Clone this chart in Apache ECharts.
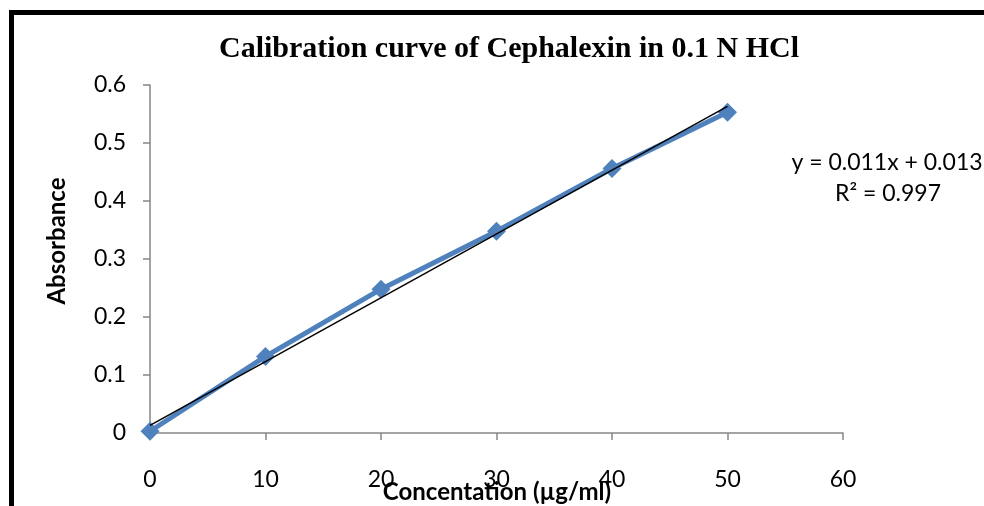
<!DOCTYPE html>
<html>
<head>
<meta charset="utf-8">
<script src="https://cdn.jsdelivr.net/npm/echarts@6/dist/echarts.min.js"></script>
<style>
  html, body { margin: 0; padding: 0; background: #fff; }
  #chart { width: 984px; height: 506px; }
</style>
</head>
<body>
<div id="chart"></div>
<script>
// concentration (µg/ml) vs absorbance
var concentration = [0, 10, 20, 30, 40, 50];
var absorbance = [0.003, 0.132, 0.248, 0.348, 0.456, 0.553];
// linear trend line ends
var trendX = [0, 50];
var trendY = [0.013, 0.563];
var xTicks = [0, 10, 20, 30, 40, 50, 60];
var yTicks = [0, 0.1, 0.2, 0.3, 0.4, 0.5, 0.6];
var xName = 'Concentation (µg/ml)';
var yName = 'Absorbance';
var equationText = 'y = 0.011x + 0.013';
var r2Text = 'R² = 0.997';

var myChart = echarts.init(document.getElementById('chart'));

var labelFont = 'Lato, "Open Sans", sans-serif';
var axisGray = '#868686';

var option = {
    backgroundColor: '#fff',
    animation: false,
    title: {
        text: 'Calibration curve of Cephalexin in 0.1 N HCl',
        left: 504,
        top: 29,
        textAlign: 'center',
        textStyle: {
            fontFamily: '"Liberation Serif", "Times New Roman", serif',
            fontWeight: 'bold',
            fontSize: 30,
            color: '#000'
        }
    },
    grid: { left: 150, right: 141, top: 85, bottom: 73, outerBoundsMode: 'none' },
    xAxis: {
        type: 'value',
        min: xTicks[0],
        max: xTicks[xTicks.length - 1],
        interval: 10,
        axisLine: { lineStyle: { color: axisGray, width: 1.5 } },
        axisTick: { show: true, length: 7, lineStyle: { color: axisGray, width: 1.5 } },
        axisLabel: { margin: 35, fontFamily: labelFont, fontSize: 23, color: '#000' },
        splitLine: { show: false }
    },
    yAxis: {
        type: 'value',
        min: yTicks[0],
        max: yTicks[yTicks.length - 1],
        interval: 0.1,
        axisLine: { show: true, lineStyle: { color: axisGray, width: 1.5 } },
        axisTick: { show: true, length: 7, lineStyle: { color: axisGray, width: 1.5 } },
        axisLabel: { margin: 24, fontFamily: labelFont, fontSize: 23, color: '#000' },
        splitLine: { show: false }
    },
    series: [
        {
            name: 'Absorbance',
            type: 'line',
            data: concentration.map(function (c, i) { return [c, absorbance[i]]; }),
            symbol: 'diamond',
            symbolSize: 19,
            lineStyle: { color: '#4F81BD', width: 5 },
            itemStyle: { color: '#4F81BD' },
            z: 2
        },
        {
            name: 'Trend',
            type: 'line',
            data: trendX.map(function (x, i) { return [x, trendY[i]]; }),
            symbol: 'none',
            lineStyle: { color: '#000', width: 1.5 },
            z: 3
        }
    ],
    graphic: [
        // outer frame (top and left edges visible)
        { type: 'rect', shape: { x: 9, y: 10, width: 975, height: 5 }, style: { fill: '#000' } },
        { type: 'rect', shape: { x: 9, y: 10, width: 5, height: 496 }, style: { fill: '#000' } },
        // axis titles
        {
            type: 'text',
            x: 57, y: 241,
            rotation: Math.PI / 2,
            style: {
                text: yName,
                fontFamily: labelFont, fontWeight: 'bold', fontSize: 24, fill: '#000',
                textAlign: 'center', textVerticalAlign: 'middle'
            }
        },
        {
            type: 'text',
            x: 497, y: 492,
            z: 10,
            style: {
                text: xName,
                fontFamily: labelFont, fontWeight: 'bold', fontSize: 24, fill: '#000',
                textAlign: 'center', textVerticalAlign: 'middle'
            }
        },
        // trendline label
        {
            type: 'text',
            x: 887, y: 163,
            style: {
                text: equationText,
                fontFamily: labelFont, fontSize: 23, fill: '#000',
                textAlign: 'center', textVerticalAlign: 'middle'
            }
        },
        {
            type: 'text',
            x: 888, y: 194,
            style: {
                text: r2Text,
                fontFamily: labelFont, fontSize: 23, fill: '#000',
                textAlign: 'center', textVerticalAlign: 'middle'
            }
        }
    ]
};

myChart.setOption(option);
</script>
</body>
</html>
